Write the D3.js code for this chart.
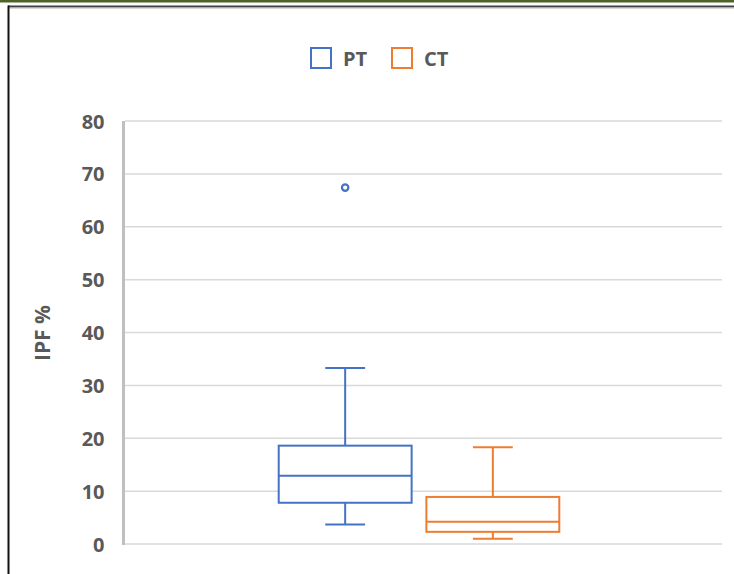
<!DOCTYPE html>
<html><head><meta charset="utf-8">
<script src="https://cdn.jsdelivr.net/npm/d3@7"></script>
<style>html,body{margin:0;padding:0;background:#fff;}svg{display:block;}</style>
</head><body>
<script>
// ---- data ----
const series = ["PT", "CT"];
const colors = ["#4472c4", "#ed7d31"];
const whiskerLow = [3.7, 1.0];
const q1 = [7.8, 2.3];
const median = [12.9, 4.2];
const q3 = [18.6, 8.9];
const whiskerHigh = [33.3, 18.3];
const outliers = [[67.4], []];
const yTicks = [0, 10, 20, 30, 40, 50, 60, 70, 80];
const yTitle = "IPF %";

const W = 734, H = 574;
const margin = {left: 125, right: 12, top: 121, bottom: 30};
const svg = d3.select("body").append("svg").attr("width", W).attr("height", H);

// outer decoration
svg.append("rect").attr("x", 0).attr("y", 0).attr("width", W).attr("height", 2.5).attr("fill", "#4f6228");
svg.append("line").attr("x1", 8).attr("x2", W).attr("y1", 6.5).attr("y2", 6.5).attr("stroke", "#404040").attr("stroke-width", 2);
svg.append("line").attr("x1", 8).attr("x2", W).attr("y1", 8.2).attr("y2", 8.2).attr("stroke", "#c8c8c8").attr("stroke-width", 1);
svg.append("line").attr("x1", 8.5).attr("x2", 8.5).attr("y1", 5.5).attr("y2", H).attr("stroke", "#111").attr("stroke-width", 2);

const x0 = margin.left, x1 = W - margin.right;
const y = d3.scaleLinear().domain([0, 80]).range([H - margin.bottom, margin.top]);
const plotW = x1 - x0;
const groupCenter = x0 + plotW / 2 - 4.5;
const groupW = plotW * 0.47;
const x = d3.scaleBand().domain(series).range([groupCenter - groupW / 2, groupCenter + groupW / 2]).paddingInner(0.1).paddingOuter(0);

const font = "'Open Sans', 'Liberation Sans', sans-serif";
const textColor = "#595959";
const fs = 20;

// gridlines
svg.append("g").selectAll("line").data(yTicks).join("line")
  .attr("x1", x0).attr("x2", x1)
  .attr("y1", d => y(d)).attr("y2", d => y(d))
  .attr("stroke", "#d9d9d9").attr("stroke-width", 1.5);

// y axis line
svg.append("line").attr("x1", x0 - 1.5).attr("x2", x0 - 1.5)
  .attr("y1", y(80)).attr("y2", y(0) + 1).attr("stroke", "#bfbfbf").attr("stroke-width", 3);

// y tick labels
const yAxis = d3.axisLeft(y).tickValues(yTicks).tickSize(0).tickPadding(0);
const ga = svg.append("g").attr("transform", `translate(${104.5},0)`).call(yAxis);
ga.select(".domain").remove();
ga.selectAll("text").attr("font-family", font).attr("font-weight", "bold")
  .attr("font-size", fs).attr("fill", textColor).attr("dy", "0.35em");

// y title
svg.append("text").attr("transform", `translate(50,${333}) rotate(-90)`)
  .attr("text-anchor", "middle").attr("font-family", font).attr("font-weight", "bold")
  .attr("font-size", fs + 1).attr("fill", textColor).text(yTitle);

// boxes
series.forEach((s, i) => {
  const g = svg.append("g").attr("stroke", colors[i]).attr("stroke-width", 2).attr("fill", "none");
  const bx = x(s), bw = x.bandwidth(), cx = bx + bw / 2, capW = bw * 0.3;
  g.append("line").attr("x1", cx).attr("x2", cx).attr("y1", y(whiskerHigh[i])).attr("y2", y(q3[i]));
  g.append("line").attr("x1", cx).attr("x2", cx).attr("y1", y(q1[i])).attr("y2", y(whiskerLow[i]));
  g.append("line").attr("x1", cx - capW / 2).attr("x2", cx + capW / 2).attr("y1", y(whiskerHigh[i])).attr("y2", y(whiskerHigh[i]));
  g.append("line").attr("x1", cx - capW / 2).attr("x2", cx + capW / 2).attr("y1", y(whiskerLow[i])).attr("y2", y(whiskerLow[i]));
  g.append("rect").attr("x", bx).attr("y", y(q3[i])).attr("width", bw).attr("height", y(q1[i]) - y(q3[i])).attr("fill", "#fff");
  g.append("line").attr("x1", bx).attr("x2", bx + bw).attr("y1", y(median[i])).attr("y2", y(median[i]));
  g.selectAll("circle").data(outliers[i]).join("circle")
    .attr("cx", cx).attr("cy", d => y(d)).attr("r", 3.2).attr("fill", "#fff").attr("stroke-width", 2.2);
});

// legend
const legX = [310, 391];
series.forEach((s, i) => {
  svg.append("rect").attr("x", legX[i] + 1).attr("y", 48).attr("width", 20).attr("height", 20)
    .attr("fill", "#fff").attr("stroke", colors[i]).attr("stroke-width", 2);
  svg.append("text").attr("x", legX[i] + 33).attr("y", 58.5).attr("dy", "0.35em")
    .attr("font-family", font).attr("font-weight", "bold").attr("font-size", fs)
    .attr("fill", textColor).text(s);
});
</script>
</body></html>
